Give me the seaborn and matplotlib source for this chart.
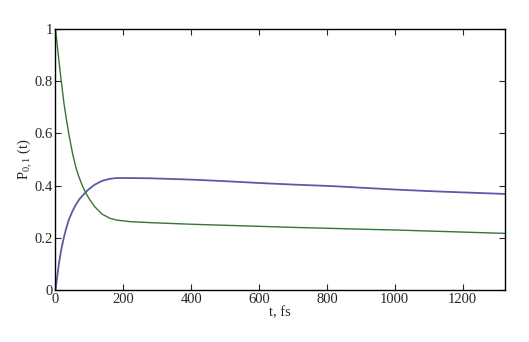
import numpy as np
import pandas as pd
import matplotlib
matplotlib.use("Agg")
import matplotlib.pyplot as plt
import seaborn as sns

t = [0, 5, 10, 17, 25, 32, 39, 50, 60, 70, 80, 90, 100, 115, 137, 160, 180,
     220, 281, 400, 500, 600, 700, 818, 900, 1000, 1100, 1200, 1325]
p0 = [1.0, 0.94, 0.88, 0.80, 0.715, 0.655, 0.60, 0.525, 0.47, 0.43, 0.397, 0.370,
      0.348, 0.32, 0.291, 0.275, 0.268, 0.262, 0.258, 0.252, 0.248, 0.244,
      0.240, 0.236, 0.233, 0.230, 0.226, 0.222, 0.217]
p1 = [0.0, 0.05, 0.10, 0.155, 0.203, 0.238, 0.268, 0.302, 0.327, 0.347, 0.362, 0.376,
      0.388, 0.403, 0.418, 0.426, 0.429, 0.429, 0.428, 0.423, 0.417, 0.410,
      0.404, 0.398, 0.392, 0.385, 0.379, 0.374, 0.368]

xticks = [0, 200, 400, 600, 800, 1000, 1200]
yticks = [0, 0.2, 0.4, 0.6, 0.8, 1]
ytick_labels = ["0", "0.2", "0.4", "0.6", "0.8", "1"]

df = pd.DataFrame({"t": t, "P0": p0, "P1": p1})

sns.set_style("ticks")
plt.rcParams["font.family"] = ["Liberation Serif", "DejaVu Serif"]
plt.rcParams["mathtext.fontset"] = "custom"
plt.rcParams["mathtext.rm"] = "Liberation Serif"
plt.rcParams["mathtext.it"] = "Liberation Serif"

fig = plt.figure(figsize=(5.29, 3.42), dpi=100)
ax = fig.add_axes([0.1049, 0.152, 0.8497, 0.7632])

sns.lineplot(data=df, x="t", y="P1", ax=ax, color="#5a5aa8", linewidth=1.3)
sns.lineplot(data=df, x="t", y="P0", ax=ax, color="#357535", linewidth=1.0)

ax.set_xlim(0, 1325)
ax.set_ylim(0, 1)
ax.set_xticks(xticks)
ax.set_yticks(yticks)
ax.set_yticklabels(ytick_labels)
ax.tick_params(direction="in", length=4, width=0.8, labelsize=10.5,
               top=True, right=True, pad=2)
for s in ax.spines.values():
    s.set_linewidth(1.0)
    s.set_color("black")

ax.set_xlabel("t, fs", fontsize=10.5, labelpad=0)
ax.set_ylabel(r"P$_{0,1}$ (t)", fontsize=10.5, labelpad=0)

fig.savefig("out.png", dpi=100)
